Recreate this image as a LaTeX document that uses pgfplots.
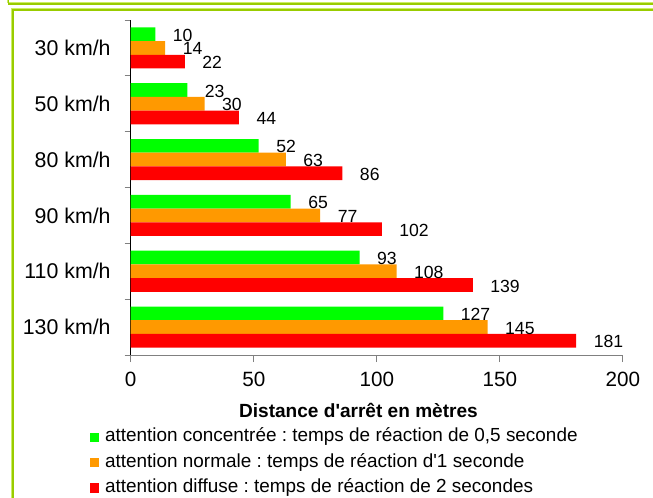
\documentclass[border=0pt]{standalone}
\usepackage{pgfplots}
\pgfplotsset{compat=1.18}
\usepackage{fontspec}
\setmainfont{Liberation Sans}
\frenchspacing
\definecolor{fgreen}{RGB}{0,255,0}
\definecolor{forange}{RGB}{255,153,0}
\definecolor{fred}{RGB}{255,0,0}
\definecolor{framedark}{RGB}{153,204,0}
\definecolor{framelight}{RGB}{204,238,102}
\definecolor{axgray}{RGB}{128,128,128}
\begin{document}
\begin{tikzpicture}[x=0.75pt,y=0.75pt]
\begin{scope}[shift={(-130.7,-142)}]
\useasboundingbox[fill=white] (0,0) rectangle (653,497);
% frame
\draw[framelight, line width=0.6pt] (7.6,500) |- (660,494.1);
\draw[framedark, line width=1pt] (8.8,500) |- (660,493.0);
\draw[framelight, line width=0.6pt] (11.8,-10) |- (660,488.3);
\draw[framedark, line width=1pt] (13,-10) |- (660,487.0);
\end{scope}
\begin{axis}[
  scale only axis, width=369.2pt, height=251.25pt,
  xmin=0, xmax=200, ymin=-0.5, ymax=5.5,
  clip=false,
  axis lines*=left,
  x axis line style={draw=axgray, line width=0.75pt, -},
  y axis line style={draw=black, line width=0.75pt, -},
  tick align=outside,
  xtick={0,50,100,150,200},
  ytick={0,1,2,3,4,5},
  yticklabels={130 km/h,110 km/h,90 km/h,80 km/h,50 km/h,30 km/h},
  minor ytick={-0.5,0.5,1.5,2.5,3.5,4.5,5.5},
  major tick length=5.25pt,
  minor tick length=4.5pt,
  major x tick style={draw=axgray, line width=0.75pt},
  major y tick style={draw=none},
  minor y tick style={draw=axgray, line width=0.75pt},
  /pgf/number format/assume math mode=true,
  xticklabel style={anchor=north, inner sep=0pt, yshift=-7.4pt, font=\fontsize{15.5}{18}\selectfont},
  yticklabel style={anchor=east, inner sep=0pt, xshift=-9.6pt, font=\fontsize{16}{19}\selectfont},
  xlabel={Distance d\textquotesingle arrêt en mètres},
  xlabel style={at={(axis description cs:0.4627,-0.1642)}, anchor=center, inner sep=0pt, font=\bfseries\fontsize{14.3}{17}\selectfont},
  xbar, bar width=0.2454,
  point meta=x,
  nodes near coords,
  nodes near coords style={anchor=west, inner sep=0pt, xshift=13pt, yshift=-0.75pt, text=black, font=\fontsize{13.2}{15}\selectfont},
  legend cell align=left,
  legend image code/.code={\fill[#1, draw=none] (0pt,-3.5pt) rectangle (7pt,3.5pt);},
  legend style={draw=none, fill=none, at={(-0.0827,-0.2176)}, anchor=north west,
    inner sep=0pt, outer sep=0pt, row sep=5pt,
    font=\fontsize{14.2}{17}\selectfont,
    nodes={inner sep=0pt, text height=10.5pt, text depth=3.5pt},
    /tikz/every odd column/.append style={column sep=4.3pt}},
]
\addplot[fill=fgreen, draw=none, bar shift=0pt] coordinates {
  (10,5.2454) (23,4.2454) (52,3.2454) (65,2.2454) (93,1.2454) (127,0.2454)};
\addlegendentry{attention concentrée : temps de réaction de 0,5 seconde}
\addplot[fill=forange, draw=none, bar shift=0pt] coordinates {
  (14,5) (30,4) (63,3) (77,2) (108,1) (145,0)};
\addlegendentry{attention normale : temps de réaction d\textquotesingle 1 seconde}
\addplot[fill=fred, draw=none, bar shift=0pt] coordinates {
  (22,4.7546) (44,3.7546) (86,2.7546) (102,1.7546) (139,0.7546) (181,-0.2454)};
\addlegendentry{attention diffuse : temps de réaction de 2 secondes}
\end{axis}
\end{tikzpicture}
\end{document}
